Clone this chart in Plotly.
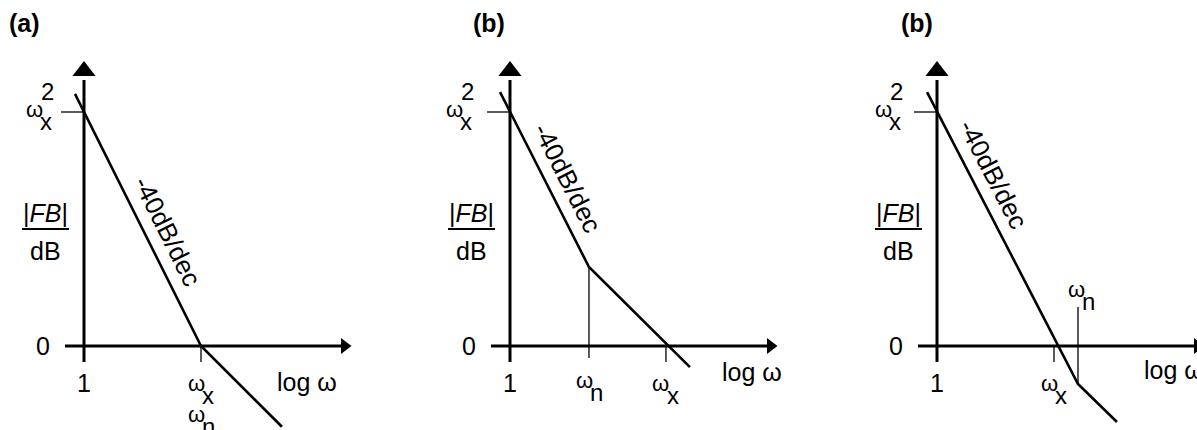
import math
import numpy as np
import plotly.graph_objects as go

# Asymptotic loop-gain magnitude |FB| (dB) against log10(omega), omega = 1 at 0.
# (a): omega_n coincides with omega_x
a_logw = [-0.077, 1.0, 1.692]
a_db = [43.1, 0.0, -13.8]
a_wx, a_wn = 1.0, 1.0

# (b): omega_n below omega_x
b_logw = [-0.085, 0.675, 1.538]
b_db = [43.4, 13.5, -3.6]
b_wx, b_wn = 1.333, 0.675

# (b): omega_n above omega_x
c_logw = [-0.085, 1.205, 1.538]
c_db = [43.4, -6.5, -13.0]
c_wx, c_wn = 1.0, 1.205

wx2_db = 40.0                      # |FB| at omega = 1
titles = ["(a)", "(b)", "(b)"]
slope_text = "-40dB/dec"

curves = [
    dict(logw=a_logw, db=a_db, wx=a_wx, wn=a_wn),
    dict(logw=b_logw, db=b_db, wx=b_wx, wn=b_wn),
    dict(logw=c_logw, db=c_db, wx=c_wx, wn=c_wn),
]

# ---- drawing geometry ----
W, H = 1197, 430
DEC = 117.0            # pixels per decade
DB = DEC / 20.0        # pixels per dB (20 dB spans one decade's length)
OY = 346               # pixel row of the 0 dB axis
FONT = "Liberation Sans, Arial, sans-serif"
TXT = 25
OMEGA = 22
SUB = 24

# per panel: left edge, right edge, pixel column of omega = 1
frames = [(0, 400, 84), (400, 800, 510), (800, 1197, 937)]
style = [
    dict(title_dx=-60, wx2_dx=-50, slope_at=0.55, log_dx=191, log_dy=36,
         wn_dx=-5, wn_dy=68, guide=None),
    dict(title_dx=-21, wx2_dx=-56, slope_at=0.33, log_dx=210, log_dy=26,
         wn_dx=-4, wn_dy=34, guide=12),
    dict(title_dx=-20, wx2_dx=-54, slope_at=0.32, log_dx=205, log_dy=24,
         wn_dx=-1, wn_dy=-57, guide=-39),
]

fig = go.Figure()
annotations, shapes = [], []
layout = dict(width=W, height=H, margin=dict(l=0, r=0, t=0, b=0),
              paper_bgcolor="white", plot_bgcolor="white", showlegend=False)


def dx(px):
    return px / DEC


def dy(px):   # pixels downward -> dB
    return -px / DB


for i, (cv, st, (left, right, ox)) in enumerate(zip(curves, style, frames)):
    s = "" if i == 0 else str(i + 1)
    xr, yr = "x" + s, "y" + s
    layout["xaxis" + s] = dict(domain=[left / W, right / W],
                               range=[(left - ox) / DEC, (right - ox) / DEC],
                               visible=False, fixedrange=True, anchor=yr)
    layout["yaxis" + s] = dict(domain=[0, 1], range=[(OY - H) / DB, OY / DB],
                               visible=False, fixedrange=True, anchor=xr)

    def line(xs, ys, w, **kw):
        fig.add_trace(go.Scatter(x=xs, y=ys, mode="lines", xaxis=xr, yaxis=yr,
                                 line=dict(color="black", width=w),
                                 hoverinfo="skip", showlegend=False, **kw))

    def label(text, x, y, px=0, py=0, size=TXT, **kw):
        annotations.append(dict(xref=xr, yref=yr, x=x, y=y, xshift=px, yshift=-py,
                                text=text, showarrow=False,
                                font=dict(family=FONT, size=size, color="black"),
                                xanchor=kw.pop("xanchor", "center"),
                                yanchor="middle", **kw))

    def omega(x, y, px, py, sub, sup=None):
        label("ω", x, y, px, py, size=OMEGA)
        label(sub, x, y, px + 12, py + 12, size=SUB)
        if sup:
            label(sup, x, y, px + 13, py - 18, size=SUB)

    # axes with arrowheads
    x_end = dx(257)
    y_top = dy(-266)
    line([dx(-19), x_end], [0, 0], 3)
    line([0, 0], [dy(16), y_top], 3)
    fig.add_trace(go.Scatter(x=[0], y=[dy(-275)], mode="markers", xaxis=xr, yaxis=yr,
                             marker=dict(symbol="triangle-up", size=20, color="black"),
                             hoverinfo="skip", showlegend=False))
    fig.add_trace(go.Scatter(x=[x_end + dx(3.5)], y=[0], mode="markers", xaxis=xr, yaxis=yr,
                             marker=dict(symbol="triangle-right", size=14, color="black"),
                             hoverinfo="skip", showlegend=False))

    # thin reference ticks
    line([dx(-23), 0], [wx2_db, wx2_db], 1.3)
    line([cv["wx"], cv["wx"]], [0, dy(16)], 1.3)
    if st["guide"] is not None:
        wn_db = float(np.interp(cv["wn"], cv["logw"], cv["db"]))
        line([cv["wn"], cv["wn"]], [wn_db, dy(st["guide"])], 1.3)

    # asymptotic magnitude curve
    line(cv["logw"], cv["db"], 2.6)

    # slope label, parallel to the first segment
    slope = (cv["db"][1] - cv["db"][0]) / (cv["logw"][1] - cv["logw"][0])
    ang = math.degrees(math.atan(-slope * DB / DEC))
    xs = st["slope_at"]
    ys = float(np.interp(xs, cv["logw"], cv["db"]))
    off = 21
    a = math.radians(ang)
    label(slope_text, xs, ys, off * math.sin(a), -off * math.cos(a),
          size=26, textangle=ang)

    # title
    label("<b>" + titles[i] + "</b>", 0, y_top, st["title_dx"], -57, size=TXT)

    # axis value labels
    label("0", 0, 0, -41, 0)
    label("1", 0, 0, 0, 37)
    omega(0, wx2_db, st["wx2_dx"], -3, "x", "2")
    label("|<i>FB</i>|", 0, 0, -39, -133)
    label("dB", 0, 0, -39, -95)
    shapes.append(dict(type="line", xref=xr, yref=yr, x0=dx(-62), x1=dx(-15),
                       y0=dy(-117), y1=dy(-117), line=dict(color="black", width=2)))
    label("log ω", x_end, 0, st["log_dx"] - 257, st["log_dy"], xanchor="left")

    # frequency labels
    omega(cv["wx"], 0, -5, 37, "x")
    omega(cv["wn"], 0, st["wn_dx"], st["wn_dy"], "n")

layout["annotations"] = annotations
layout["shapes"] = shapes
fig.update_layout(**layout)
fig.write_html("out.html", config={"displayModeBar": False})
